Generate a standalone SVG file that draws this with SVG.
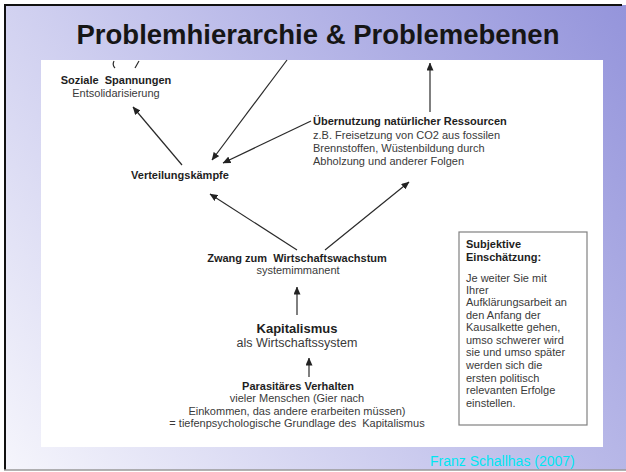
<svg xmlns="http://www.w3.org/2000/svg" width="626" height="472" viewBox="0 0 626 472">
  <defs>
    <linearGradient id="bg" gradientUnits="userSpaceOnUse" x1="626" y1="0" x2="0" y2="472">
      <stop offset="0" stop-color="#9494db"/>
      <stop offset="0.5" stop-color="#c4c4ec"/>
      <stop offset="1" stop-color="#f6f6fc"/>
    </linearGradient>
    <marker id="arr" markerUnits="userSpaceOnUse" markerWidth="8" markerHeight="7" refX="7.5" refY="3.5" orient="auto">
      <path d="M0,0 L8,3.5 L0,7 z" fill="#222"/>
    </marker>
    <style>
      text { font-family: "Liberation Sans", Arial, sans-serif; fill: #2a2a2a; white-space: pre; }
      .b { font-weight: bold; font-size: 11px; fill: #1e1e1e; }
      .r { font-size: 11px; fill: #3a3a3a; }
      .c { text-anchor: middle; }
      .conn line, .conn path { stroke: #2a2a2a; stroke-width: 1.2; fill: none; }
    </style>
  </defs>

  <rect x="0" y="0" width="626" height="472" fill="#ffffff"/>
  <rect x="5" y="5" width="621" height="465" fill="url(#bg)"/>
  <line x1="4" y1="5" x2="622" y2="5" stroke="#111" stroke-width="2"/>
  <line x1="5" y1="4" x2="5" y2="470" stroke="#111" stroke-width="2"/>
  <line x1="4" y1="470" x2="626" y2="470" stroke="#999" stroke-width="1.5"/>

  <text x="318" y="44" style="font-family: 'Liberation Sans', Arial, sans-serif; font-weight: bold; font-size: 27.5px; fill: #161616;" text-anchor="middle">Problemhierarchie &amp; Problemebenen</text>

  <rect x="41" y="60" width="562" height="387" fill="#ffffff"/>

  <g class="conn" id="connectors">
    <path d="M114,61 Q112,65 115,68"/>
    <path d="M139,61 L135,68"/>
    <line x1="287" y1="60" x2="212" y2="160" marker-end="url(#arr)"/>
    <line x1="182" y1="165" x2="133" y2="107" marker-end="url(#arr)"/>
    <line x1="311" y1="121" x2="223" y2="163" marker-end="url(#arr)"/>
    <line x1="430" y1="112" x2="430" y2="63" marker-end="url(#arr)"/>
    <line x1="297" y1="250" x2="210" y2="194" marker-end="url(#arr)"/>
    <line x1="325" y1="250" x2="409" y2="182" marker-end="url(#arr)"/>
    <line x1="297" y1="315" x2="297" y2="287" marker-end="url(#arr)"/>
    <line x1="309" y1="377" x2="309" y2="358" marker-end="url(#arr)"/>
  </g>

  <g id="soziale">
    <text class="b c" x="116" y="84">Soziale  Spannungen</text>
    <text class="r c" x="116" y="97">Entsolidarisierung</text>
  </g>

  <g id="verteilung">
    <text class="b c" x="180" y="179">Verteilungskämpfe</text>
  </g>

  <g id="uebernutzung">
    <text class="b" x="313" y="125">Übernutzung natürlicher Ressourcen</text>
    <text class="r" x="313" y="139">z.B. Freisetzung von CO2 aus fossilen</text>
    <text class="r" x="313" y="152">Brennstoffen, Wüstenbildung durch</text>
    <text class="r" x="313" y="165">Abholzung und anderer Folgen</text>
  </g>

  <g id="zwang">
    <text class="b c" x="297" y="262">Zwang zum  Wirtschaftswachstum</text>
    <text class="r c" x="298" y="274">systemimmanent</text>
  </g>

  <g id="kapitalismus">
    <text class="c" x="297" y="333" style="font-weight: bold; font-size: 13px; fill: #1e1e1e;">Kapitalismus</text>
    <text class="c" x="297" y="347" style="font-size: 12.5px; fill: #3a3a3a;">als Wirtschaftssystem</text>
  </g>

  <g id="parasitaer">
    <text class="b c" x="298" y="390">Parasitäres Verhalten</text>
    <text class="r c" x="297" y="402">vieler Menschen (Gier nach</text>
    <text class="r c" x="297" y="415">Einkommen, das andere erarbeiten müssen)</text>
    <text class="r c" x="297" y="427">= tiefenpsychologische Grundlage des  Kapitalismus</text>
  </g>

  <g id="subjektiv">
    <rect x="459" y="232" width="128" height="193" fill="#ffffff" stroke="#808080" stroke-width="1.2"/>
    <text class="b" x="466" y="248">Subjektive</text>
    <text class="b" x="466" y="261">Einschätzung:</text>
    <text class="r" x="466" y="282">Je weiter Sie mit</text>
    <text class="r" x="466" y="294">Ihrer</text>
    <text class="r" x="466" y="306">Aufklärungsarbeit an</text>
    <text class="r" x="466" y="319">den Anfang der</text>
    <text class="r" x="466" y="331">Kausalkette gehen,</text>
    <text class="r" x="466" y="344">umso schwerer wird</text>
    <text class="r" x="466" y="356">sie und umso später</text>
    <text class="r" x="466" y="369">werden sich die</text>
    <text class="r" x="466" y="382">ersten politisch</text>
    <text class="r" x="466" y="394">relevanten Erfolge</text>
    <text class="r" x="466" y="407">einstellen.</text>
  </g>

  <text x="430" y="466" style="font-size: 14px; fill: #00e6f2;">Franz Schallhas (2007)</text>
</svg>
